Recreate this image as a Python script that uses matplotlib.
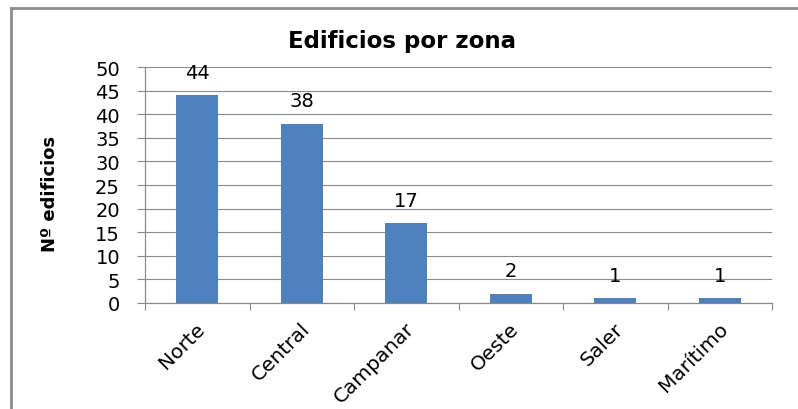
import matplotlib.pyplot as plt
import matplotlib.transforms as mtransforms
from matplotlib.lines import Line2D
import numpy as np

zonas = ["Norte", "Central", "Campanar", "Oeste", "Saler", "Marítimo"]
edificios = [44, 38, 17, 2, 1, 1]
y_ticks = [0, 5, 10, 15, 20, 25, 30, 35, 40, 45, 50]

plt.rcParams["font.family"] = ["DejaVu Sans"]

W, H = 798, 410
fig = plt.figure(figsize=(W / 100, H / 100), dpi=100)
ax = fig.add_axes([145 / W, 1 - 304 / H, (772 - 145) / W, (304 - 68) / H])

x = np.arange(len(zonas))
ax.bar(x, edificios, width=0.4, color="#4F81BD", zorder=3)
for xi, v in zip(x, edificios):
    ax.annotate(str(v), (xi, v), xytext=(0, 9.5), textcoords="offset points",
                ha="center", va="bottom", fontsize=14, color="#000000")

ax.set_xlim(-0.5, len(zonas) - 0.5)
ax.set_ylim(0, 50)
ax.set_yticks(y_ticks)
ax.yaxis.grid(True, color="#8a8a8a", linewidth=0.8, zorder=0)
ax.tick_params(axis="y", labelsize=14, length=6, width=0.8, color="#8a8a8a", pad=12)

# category labels at centres, tick marks at boundaries
ax.set_xticks(x)
ax.set_xticklabels(zonas, rotation=45, ha="right", va="center", rotation_mode="anchor")
ax.set_xticks(np.arange(len(zonas) + 1) - 0.5, minor=True)
ax.tick_params(axis="x", which="major", length=0, labelsize=14.5, pad=16)
ax.tick_params(axis="x", which="minor", length=5, width=0.8, color="#8a8a8a")
shift = mtransforms.ScaledTranslation(5 / 100, 0, fig.dpi_scale_trans)
for lbl in ax.get_xticklabels():
    lbl.set_transform(lbl.get_transform() + shift)

for side in ["top", "right"]:
    ax.spines[side].set_visible(False)
for side in ["left", "bottom"]:
    ax.spines[side].set_color("#8a8a8a")
    ax.spines[side].set_linewidth(0.9)

ax.set_ylabel("Nº edificios", fontsize=13, fontweight="bold", va="center")
ax.yaxis.set_label_coords(-0.1515, 0.466)
fig.text(402 / W, 1 - 48 / H, "Edificios por zona", ha="center", va="baseline",
         fontsize=16.5, fontweight="bold")

# chart area border (left and top visible)
fig.add_artist(Line2D([11 / W, 11 / W], [0, 1 - 9 / H], color="#8c8c8c", linewidth=2))
fig.add_artist(Line2D([11 / W, 1], [1 - 9 / H, 1 - 9 / H], color="#8c8c8c", linewidth=2))

fig.savefig("out.png", dpi=100)
